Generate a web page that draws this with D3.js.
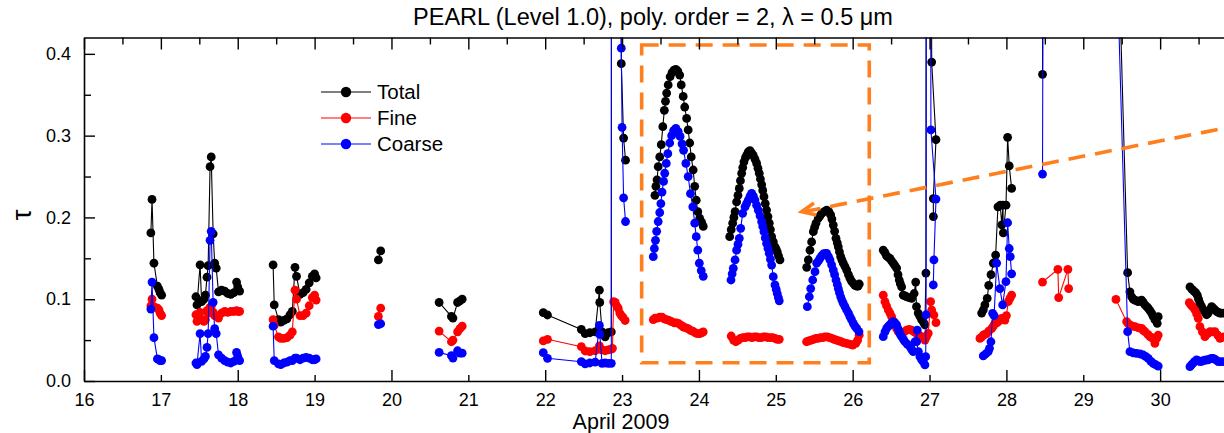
<!DOCTYPE html>
<html><head><meta charset="utf-8">
<script src="https://cdn.jsdelivr.net/npm/d3@7"></script>
<style>
body{margin:0;background:#fff;}
svg{display:block;font-family:"Liberation Sans",Arial,Helvetica,sans-serif;}
</style></head><body>
<script>
// ---------------- DATA ----------------
const chartTitle = "PEARL (Level 1.0), poly. order = 2, \u03bb = 0.5 \u03bcm";
const xLabel = "April 2009";
const yLabel = "\u03c4";
const xTickValues = [16,17,18,19,20,21,22,23,24,25,26,27,28,29,30];
const yTickValues = [0,0.05,0.1,0.15,0.2,0.25,0.3,0.35,0.4];
const seriesNames = ["Total","Fine","Coarse"];
const seriesColors = ["#000000","#ff0000","#0000ff"];

// each series: list of measurement episodes, each a list of [day of April 2009, tau]
const totalSegments = [
  [[16.87,0.181],[16.885,0.222],[16.91,0.144],[16.955,0.116],[16.975,0.112],[16.99,0.108],[17.01,0.105]],
  [[17.456,0.103],[17.47,0.093],[17.51,0.142],[17.53,0.097],[17.56,0.100],[17.58,0.105],[17.60,0.127],[17.615,0.141],[17.64,0.262],[17.655,0.274],[17.68,0.180],[17.70,0.144],[17.72,0.138],[17.75,0.109],[17.79,0.111],[17.83,0.110],[17.87,0.107],[17.91,0.106],[17.95,0.108],[17.985,0.121],[18.00,0.115],[18.025,0.110]],
  [[18.46,0.142],[18.475,0.093],[18.53,0.075],[18.56,0.072],[18.60,0.074],[18.64,0.076],[18.68,0.081],[18.71,0.085],[18.745,0.139],[18.765,0.128],[18.81,0.106],[18.85,0.108],[18.89,0.112],[18.93,0.120],[18.97,0.128],[19.0,0.131],[19.02,0.126]],
  [[19.83,0.148],[19.86,0.159]],
  [[20.62,0.096],[20.78,0.079],[20.80,0.077],[20.86,0.096],[20.89,0.098],[20.92,0.100]],
  [[21.975,0.0835],[22.03,0.0807],[22.47,0.063],[22.52,0.058],[22.58,0.059],[22.65,0.060],[22.705,0.111],[22.71,0.096],[22.74,0.060],[22.78,0.054],[22.82,0.059],[22.86,0.060],[22.87,3.0],[22.99,0.388],[23.02,0.297],[23.045,0.270]],
  [[23.428,0.227],[23.44,0.238],[23.455,0.246],[23.47,0.262],[23.49,0.274],[23.51,0.289],[23.53,0.311],[23.55,0.331],[23.565,0.342],[23.58,0.352],[23.60,0.362],[23.625,0.372],[23.65,0.377],[23.675,0.380],[23.70,0.381],[23.725,0.379],[23.75,0.374],[23.77,0.362],[23.795,0.348],[23.815,0.335],[23.84,0.321],[23.86,0.307],[23.88,0.291],[23.90,0.274],[23.925,0.258],[23.945,0.238],[23.965,0.221],[23.985,0.207],[24.01,0.199],[24.035,0.194],[24.056,0.189]],
  [[24.40,0.1765],[24.42,0.185],[24.439,0.193],[24.455,0.200],[24.47,0.207],[24.49,0.219],[24.508,0.227],[24.525,0.2355],[24.54,0.245],[24.556,0.254],[24.57,0.261],[24.586,0.268],[24.605,0.273],[24.621,0.276],[24.64,0.280],[24.664,0.2816],[24.685,0.279],[24.707,0.276],[24.73,0.271],[24.751,0.266],[24.768,0.260],[24.785,0.254],[24.80,0.247],[24.816,0.240],[24.83,0.233],[24.846,0.2254],[24.863,0.217],[24.88,0.209],[24.898,0.201],[24.915,0.193],[24.93,0.185],[24.946,0.1765],[24.968,0.170],[24.989,0.164],[25.005,0.161],[25.019,0.158],[25.035,0.153],[25.054,0.148]],
  [[25.402,0.139],[25.423,0.148],[25.445,0.160],[25.466,0.170],[25.488,0.1826],[25.505,0.188],[25.523,0.193],[25.553,0.199],[25.575,0.202],[25.597,0.205],[25.63,0.207],[25.662,0.209],[25.69,0.207],[25.714,0.203],[25.73,0.198],[25.748,0.1907],[25.765,0.183],[25.783,0.1745],[25.80,0.169],[25.813,0.164],[25.828,0.158],[25.844,0.152],[25.86,0.148],[25.878,0.144],[25.90,0.140],[25.922,0.1357],[25.945,0.130],[25.965,0.1255],[25.985,0.122],[26.008,0.1194],[26.03,0.117],[26.052,0.116],[26.07,0.116],[26.086,0.1186]],
  [[26.398,0.160],[26.42,0.157],[26.44,0.153],[26.465,0.151],[26.485,0.150],[26.505,0.147],[26.528,0.144],[26.55,0.141],[26.572,0.138],[26.59,0.130],[26.606,0.1235],[26.62,0.119],[26.637,0.115],[26.658,0.105],[26.68,0.104],[26.70,0.103],[26.735,0.102],[26.767,0.101],[26.80,0.107],[26.82,0.121],[26.83,0.091],[26.853,0.083],[26.875,0.079],[26.897,0.075],[26.92,0.072],[26.94,0.0685],[26.953,0.132],[26.975,3.0],[27.028,0.390],[27.084,0.295],[27.049,0.223],[27.05,0.201]],
  [[27.678,0.083],[27.70,0.087],[27.72,0.093],[27.75,0.101],[27.77,0.117],[27.80,0.130],[27.83,0.144],[27.86,0.154],[27.89,0.213],[27.92,0.215],[27.94,0.191],[27.955,0.215],[27.96,0.181],[27.995,0.215],[28.016,0.298],[28.037,0.263],[28.068,0.2355]],
  [[28.47,0.375],[28.67,8],[28.68,8],[28.80,8],[28.81,8],[29.43,0.62],[29.577,0.1325],[29.607,0.109],[29.629,0.103],[29.65,0.100],[29.672,0.099],[29.695,0.098],[29.715,0.097],[29.74,0.098],[29.759,0.099],[29.78,0.096],[29.802,0.093],[29.825,0.091],[29.845,0.089],[29.868,0.086],[29.889,0.083],[29.91,0.079],[29.932,0.075],[29.962,0.0705],[29.975,0.0786]],
  [[30.388,0.115],[30.415,0.112],[30.44,0.110],[30.462,0.108],[30.483,0.105],[30.50,0.100],[30.518,0.095],[30.54,0.091],[30.561,0.087],[30.585,0.084],[30.605,0.081],[30.625,0.083],[30.645,0.087],[30.67,0.091],[30.69,0.089],[30.713,0.087],[30.735,0.085],[30.757,0.084],[30.778,0.083],[30.80,0.083],[30.83,0.083],[30.9,0.085]]
];

const fineSegments = [
  [[16.87,0.092],[16.885,0.100],[16.91,0.091],[16.955,0.089],[16.975,0.087],[16.99,0.083],[17.01,0.080]],
  [[17.456,0.081],[17.47,0.073],[17.51,0.084],[17.53,0.075],[17.56,0.073],[17.58,0.075],[17.60,0.086],[17.615,0.083],[17.64,0.090],[17.655,0.091],[17.68,0.084],[17.70,0.080],[17.72,0.080],[17.75,0.077],[17.79,0.083],[17.83,0.085],[17.87,0.084],[17.91,0.085],[17.95,0.085],[17.985,0.086],[18.00,0.085],[18.025,0.085]],
  [[18.46,0.075],[18.475,0.068],[18.53,0.054],[18.56,0.052],[18.60,0.052],[18.64,0.053],[18.68,0.056],[18.71,0.060],[18.745,0.111],[18.765,0.100],[18.81,0.080],[18.85,0.080],[18.89,0.083],[18.93,0.092],[18.97,0.102],[19.0,0.105],[19.02,0.099]],
  [[19.83,0.079],[19.86,0.089]],
  [[20.62,0.061],[20.78,0.048],[20.80,0.050],[20.86,0.060],[20.89,0.064],[20.92,0.067]],
  [[21.975,0.049],[22.03,0.051],[22.47,0.042],[22.52,0.0367],[22.58,0.036],[22.65,0.037],[22.705,0.043],[22.71,0.039],[22.74,0.038],[22.78,0.037],[22.82,0.038],[22.86,0.039],[22.875,0.040],[22.89,0.097],[22.91,0.096],[22.93,0.092],[22.95,0.089],[22.97,0.083],[22.99,0.080],[23.01,0.078],[23.04,0.074]],
  [[23.406,0.075],[23.43,0.077],[23.46,0.077],[23.49,0.078],[23.52,0.078],[23.55,0.076],[23.58,0.075],[23.61,0.074],[23.645,0.0725],[23.68,0.071],[23.71,0.071],[23.74,0.070],[23.77,0.068],[23.80,0.066],[23.83,0.065],[23.86,0.064],[23.89,0.062],[23.92,0.061],[23.95,0.059],[23.98,0.058],[24.01,0.058],[24.04,0.059],[24.056,0.060]],
  [[24.42,0.055],[24.45,0.050],[24.48,0.048],[24.51,0.050],[24.54,0.052],[24.57,0.053],[24.60,0.053],[24.63,0.054],[24.66,0.054],[24.69,0.053],[24.72,0.054],[24.75,0.054],[24.78,0.053],[24.81,0.053],[24.84,0.054],[24.87,0.054],[24.90,0.053],[24.93,0.053],[24.96,0.053],[24.99,0.052],[25.02,0.051],[25.045,0.051]],
  [[25.40,0.048],[25.43,0.049],[25.46,0.050],[25.49,0.051],[25.52,0.052],[25.55,0.052],[25.58,0.053],[25.61,0.053],[25.64,0.054],[25.67,0.054],[25.70,0.053],[25.73,0.052],[25.76,0.051],[25.79,0.050],[25.82,0.049],[25.85,0.048],[25.88,0.047],[25.92,0.046],[25.96,0.045],[26.00,0.044],[26.04,0.046],[26.065,0.050],[26.085,0.056]],
  [[26.398,0.105],[26.42,0.097],[26.44,0.092],[26.463,0.0868],[26.485,0.083],[26.507,0.0786],[26.53,0.073],[26.55,0.0685],[26.572,0.064],[26.593,0.0603],[26.615,0.059],[26.637,0.0583],[26.67,0.060],[26.702,0.0623],[26.735,0.063],[26.767,0.0623],[26.80,0.060],[26.832,0.0583],[26.865,0.056],[26.897,0.0542],[26.92,0.052],[26.94,0.050],[26.96,0.054],[26.983,0.0583],[27.014,0.097],[27.028,0.0868],[27.057,0.0807],[27.084,0.0713]],
  [[27.656,0.052],[27.68,0.054],[27.70,0.056],[27.72,0.057],[27.742,0.058],[27.77,0.061],[27.808,0.064],[27.83,0.067],[27.851,0.0705],[27.875,0.071],[27.894,0.0725],[27.915,0.075],[27.937,0.0766],[27.96,0.076],[27.981,0.0745],[28.0,0.080],[28.024,0.097],[28.045,0.101],[28.068,0.105]],
  [[28.47,0.121],[28.67,0.1365],[28.68,0.102],[28.80,0.1365],[28.81,0.113]],
  [[29.425,0.0998],[29.564,0.0725],[29.585,0.070],[29.607,0.0685],[29.64,0.067],[29.672,0.0664],[29.72,0.065],[29.759,0.0644],[29.78,0.062],[29.802,0.0603],[29.84,0.057],[29.867,0.0542],[29.89,0.053],[29.91,0.0522],[29.932,0.046],[29.955,0.052],[29.975,0.0562]],
  [[30.379,0.0957],[30.40,0.093],[30.42,0.091],[30.453,0.0868],[30.475,0.082],[30.496,0.0766],[30.518,0.0664],[30.55,0.060],[30.583,0.0542],[30.62,0.058],[30.648,0.0603],[30.68,0.060],[30.713,0.0603],[30.75,0.056],[30.778,0.0522],[30.80,0.053],[30.83,0.054],[30.9,0.056]]
];

const coarseSegments = [
  [[16.87,0.088],[16.885,0.121],[16.91,0.053],[16.955,0.027],[16.975,0.026],[16.99,0.025],[17.01,0.025]],
  [[17.456,0.022],[17.47,0.020],[17.51,0.058],[17.53,0.024],[17.56,0.027],[17.58,0.030],[17.60,0.041],[17.615,0.058],[17.64,0.172],[17.655,0.183],[17.68,0.096],[17.70,0.064],[17.72,0.058],[17.75,0.032],[17.79,0.028],[17.83,0.025],[17.87,0.023],[17.91,0.022],[17.95,0.024],[17.985,0.035],[18.00,0.030],[18.025,0.025]],
  [[18.46,0.067],[18.475,0.025],[18.53,0.021],[18.56,0.020],[18.60,0.022],[18.64,0.023],[18.68,0.025],[18.71,0.025],[18.745,0.028],[18.765,0.028],[18.81,0.026],[18.85,0.028],[18.89,0.029],[18.93,0.028],[18.97,0.026],[19.0,0.026],[19.02,0.027]],
  [[19.83,0.069],[19.86,0.070]],
  [[20.62,0.035],[20.78,0.031],[20.80,0.028],[20.86,0.037],[20.89,0.034],[20.92,0.034]],
  [[21.975,0.0346],[22.03,0.0277],[22.47,0.0236],[22.52,0.021],[22.58,0.022],[22.65,0.023],[22.705,0.068],[22.71,0.057],[22.74,0.0216],[22.78,0.022],[22.82,0.0216],[22.86,0.0216],[22.87,3.0],[22.99,0.407],[23.0,0.310],[23.02,0.224],[23.045,0.195]],
  [[23.406,0.152],[23.42,0.162],[23.435,0.172],[23.45,0.183],[23.47,0.195],[23.49,0.206],[23.505,0.217],[23.52,0.231],[23.54,0.244],[23.555,0.254],[23.575,0.266],[23.595,0.278],[23.62,0.291],[23.645,0.300],[23.67,0.306],[23.70,0.309],[23.73,0.305],[23.755,0.299],[23.78,0.290],[23.80,0.282],[23.83,0.266],[23.86,0.250],[23.89,0.229],[23.92,0.213],[23.945,0.193],[23.965,0.1765],[23.985,0.160],[24.005,0.144],[24.03,0.135],[24.056,0.128]],
  [[24.417,0.1235],[24.432,0.131],[24.447,0.1378],[24.47,0.148],[24.49,0.160],[24.508,0.167],[24.525,0.1745],[24.543,0.1867],[24.569,0.205],[24.6,0.213],[24.62,0.217],[24.642,0.2213],[24.665,0.226],[24.686,0.2295],[24.708,0.226],[24.729,0.2213],[24.75,0.215],[24.772,0.209],[24.795,0.202],[24.816,0.1948],[24.83,0.189],[24.846,0.1826],[24.863,0.175],[24.88,0.168],[24.898,0.162],[24.915,0.156],[24.93,0.149],[24.946,0.1418],[24.967,0.1276],[24.989,0.1174],[25.005,0.112],[25.019,0.107],[25.033,0.102],[25.045,0.098]],
  [[25.41,0.0909],[25.436,0.103],[25.454,0.113],[25.48,0.1235],[25.51,0.1337],[25.532,0.144],[25.555,0.147],[25.575,0.150],[25.596,0.153],[25.618,0.1553],[25.64,0.156],[25.662,0.156],[25.685,0.152],[25.705,0.148],[25.726,0.142],[25.748,0.1357],[25.765,0.130],[25.783,0.1235],[25.80,0.118],[25.813,0.113],[25.828,0.108],[25.844,0.103],[25.86,0.099],[25.878,0.095],[25.90,0.091],[25.922,0.0868],[25.945,0.083],[25.965,0.0786],[25.985,0.075],[26.008,0.0705],[26.03,0.067],[26.052,0.0644],[26.082,0.0603]],
  [[26.398,0.0542],[26.42,0.060],[26.442,0.0644],[26.465,0.067],[26.485,0.0685],[26.505,0.071],[26.528,0.0725],[26.55,0.071],[26.572,0.0685],[26.59,0.064],[26.606,0.0603],[26.62,0.057],[26.637,0.0542],[26.66,0.051],[26.68,0.048],[26.71,0.045],[26.745,0.042],[26.765,0.039],[26.788,0.0358],[26.81,0.048],[26.84,0.0623],[26.832,0.048],[26.855,0.036],[26.875,0.0297],[26.897,0.026],[26.918,0.0236],[26.94,0.0196],[26.95,0.0297],[26.955,0.081],[26.975,3.0],[27.018,0.307],[27.084,0.2225],[27.057,0.148],[27.049,0.1174]],
  [[27.699,0.0306],[27.73,0.033],[27.764,0.036],[27.78,0.040],[27.799,0.048],[27.821,0.0827],[27.84,0.080],[27.873,0.144],[27.916,0.113],[27.951,0.093],[27.994,0.1214],[28.016,0.1935],[28.037,0.162],[28.05,0.152],[28.068,0.131]],
  [[28.47,0.253],[28.67,8],[28.68,8],[28.80,8],[28.81,8],[29.43,0.54],[29.577,0.0603],[29.607,0.0358],[29.65,0.0345],[29.693,0.0338],[29.74,0.033],[29.78,0.0318],[29.81,0.030],[29.845,0.0277],[29.88,0.024],[29.91,0.0216],[29.94,0.020],[29.975,0.0183]],
  [[30.388,0.0175],[30.41,0.020],[30.43,0.022],[30.452,0.024],[30.474,0.0257],[30.496,0.025],[30.518,0.0236],[30.54,0.024],[30.56,0.025],[30.583,0.0255],[30.605,0.0257],[30.628,0.026],[30.65,0.027],[30.67,0.0275],[30.691,0.0277],[30.72,0.026],[30.756,0.0236],[30.79,0.0236],[30.83,0.0236],[30.9,0.024]]
];

// ---------------- CHART ----------------
const W = 1224, H = 433;
const x = d3.scaleLinear().domain([16, 31]).range([84, 1237]);
const y = d3.scaleLinear().domain([0, 0.42]).range([381, 37.5]);

const svg = d3.select("body").append("svg").attr("width", W).attr("height", H);
svg.append("defs").append("clipPath").attr("id", "plotClip")
  .append("rect").attr("x", 84).attr("y", 37.5).attr("width", 1237 - 84).attr("height", 381 - 37.5);

const plot = svg.append("g").attr("clip-path", "url(#plotClip)");
const line = d3.line().x(d => x(d[0])).y(d => y(d[1]));

[totalSegments, fineSegments, coarseSegments].forEach((segs, i) => {
  const g = plot.append("g");
  g.selectAll("path").data(segs).join("path")
    .attr("d", line).attr("fill", "none")
    .attr("stroke", seriesColors[i]).attr("stroke-width", 1.1);
  g.selectAll("circle").data(segs.flat()).join("circle")
    .attr("cx", d => x(d[0])).attr("cy", d => y(d[1]))
    .attr("r", 4.4).attr("fill", seriesColors[i]);
});

// annotation: dashed orange box & arrow
const orange = "#ff7f1f";
const ann = svg.append("g");
const box = { d0: 23.255, d1: 26.216, t0: 0.0224, t1: 0.4108 };
ann.append("rect")
  .attr("x", x(box.d0)).attr("y", y(box.t1))
  .attr("width", x(box.d1) - x(box.d0)).attr("height", y(box.t0) - y(box.t1))
  .attr("fill", "none").attr("stroke", orange).attr("stroke-width", 3.6)
  .attr("stroke-dasharray", "17,10");
const tip = [x(25.337), y(0.207)];
const tail0 = [x(30.83), y(0.309)];
const tail = [tip[0] + (tail0[0] - tip[0]) * 1.1, tip[1] + (tail0[1] - tip[1]) * 1.1];
ann.append("line")
  .attr("x1", tip[0] + 2).attr("y1", tip[1]).attr("x2", tail[0]).attr("y2", tail[1])
  .attr("stroke", orange).attr("stroke-width", 3.6).attr("stroke-dasharray", "17,10");
const ang = Math.atan2(tail[1] - tip[1], tail[0] - tip[0]);
const headLen = 15, spread = 24 * Math.PI / 180;
ann.append("path")
  .attr("d", `M${tip[0] + headLen * Math.cos(ang - spread)},${tip[1] + headLen * Math.sin(ang - spread)}L${tip[0]},${tip[1]}L${tip[0] + headLen * Math.cos(ang + spread)},${tip[1] + headLen * Math.sin(ang + spread)}`)
  .attr("fill", "none").attr("stroke", orange).attr("stroke-width", 3.6);

// axes
const fontFam = '"Liberation Sans", Arial, Helvetica, sans-serif';
function styleAxis(g, fs) {
  g.attr("font-size", fs).attr("font-family", fontFam);
  g.select(".domain").attr("stroke", "#000").attr("stroke-width", 1.6);
  g.selectAll(".tick line").attr("stroke", "#000").attr("stroke-width", 1.4);
  g.selectAll(".tick text").attr("fill", "#000");
}

const gx = svg.append("g").attr("transform", `translate(0,${y(0)})`)
  .call(d3.axisBottom(x).tickValues(xTickValues).tickSizeInner(-11).tickSizeOuter(0)
    .tickPadding(12).tickFormat(d3.format("d")));
gx.selectAll(".tick line").attr("y2", d => d % 2 === 0 ? -11 : -6);
styleAxis(gx, 18);

const topTicks = d3.range(32).map(i => 16 + i * 0.5).filter(v => v <= 31);
const gtop = svg.append("g").attr("transform", `translate(0,${y(0.42)})`)
  .call(d3.axisTop(x).tickValues(topTicks).tickSizeInner(-12).tickSizeOuter(0).tickFormat(""));
gtop.selectAll(".tick line").attr("y2", d => Number.isInteger(d) ? 12 : 7);
styleAxis(gtop, 18);

const gy = svg.append("g").attr("transform", `translate(${x(16)},0)`)
  .call(d3.axisLeft(y).tickValues(yTickValues).tickSizeInner(-11).tickSizeOuter(0)
    .tickPadding(13).tickFormat(d => (Math.round(d * 100) % 10 === 0 ? d.toFixed(1) : "")));
gy.selectAll(".tick line").attr("x2", d => (Math.round(d * 100) % 10 === 0 ? 11 : 7));
styleAxis(gy, 18);

// titles
svg.append("text").attr("x", 653).attr("y", 25).attr("text-anchor", "middle")
  .attr("font-size", 23.5).attr("font-family", fontFam).text(chartTitle);
svg.append("text").attr("x", 621).attr("y", 429).attr("text-anchor", "middle")
  .attr("font-size", 21.5).attr("font-family", fontFam).text(xLabel);
svg.append("text").attr("transform", "translate(21,215) rotate(-90)").attr("text-anchor", "middle")
  .attr("dominant-baseline", "central").attr("font-size", 28).attr("font-family", fontFam).text(yLabel);

// legend
const legend = svg.append("g").attr("font-family", fontFam).attr("font-size", 20.5);
seriesNames.forEach((name, i) => {
  const ly = 92 + i * 26;
  legend.append("line").attr("x1", 321).attr("x2", 371).attr("y1", ly).attr("y2", ly)
    .attr("stroke", seriesColors[i]).attr("stroke-width", 1.2);
  legend.append("circle").attr("cx", 346).attr("cy", ly).attr("r", 5.2).attr("fill", seriesColors[i]);
  legend.append("text").attr("x", 377).attr("y", ly).attr("dy", "0.36em").text(name);
});
</script></body></html>
